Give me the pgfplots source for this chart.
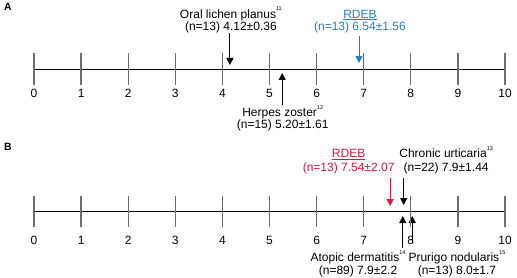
\documentclass[border=0pt]{standalone}
\usepackage{pgfplots}
\pgfplotsset{compat=1.18}
\usepackage{fontspec}
\setmainfont{Liberation Sans}
\usetikzlibrary{arrows.meta}
\definecolor{blueA}{RGB}{35,128,192}
\definecolor{redB}{RGB}{222,22,62}
\definecolor{tickgray}{RGB}{110,110,110}
\newcommand{\sups}[1]{\raisebox{0.62em}{\fontsize{5.5bp}{6bp}\selectfont #1}}
\newcommand{\lab}{\fontsize{12bp}{13bp}\selectfont}
\pgfplotsset{
  numberline/.style={
    scale only axis, width=471bp, height=138bp,
    xmin=0, xmax=10, hide axis, clip=false, anchor=south west,
  },
  arr/.style={line width=0.9bp, -{Triangle[length=7bp,width=7bp]}},
}
\begin{document}
\begin{tikzpicture}
% ---------------- Panel A ----------------
\begin{axis}[numberline, at={(34bp,140bp)}, ymin=-69, ymax=69]
  \addplot[tickgray, line width=1.3bp, only marks, mark=|, mark size=16bp]
    coordinates {(0,0)(1,0)(2,0)(3,0)(4,0)(5,0)(6,0)(7,0)(8,0)(9,0)(10,0)};
  \addplot[black, line width=0.8bp] coordinates {(0,0)(10,0)};
  \addplot[draw=none, mark=none, nodes near coords, point meta=explicit symbolic,
    nodes near coords style={anchor=center, yshift=-24bp, font=\lab, text=black}]
    coordinates {(0,0)[0] (1,0)[1] (2,0)[2] (3,0)[3] (4,0)[4] (5,0)[5]
                 (6,0)[6] (7,0)[7] (8,0)[8] (9,0)[9] (10,0)[10]};
  % arrows
  \addplot[black, arr] coordinates {(4.16,36) (4.16,4)};
  \addplot[blueA, arr] coordinates {(6.90,33) (6.90,6)};
  \addplot[black, arr] coordinates {(5.27,-36) (5.27,-4)};
  % labels
  \node[anchor=base, font=\lab] at (axis cs:4.18,51) {Oral lichen planus\sups{11}};
  \node[anchor=base, font=\lab] at (axis cs:4.18,38) {(n=13) 4.12±0.36};
  \node[anchor=base, font=\lab, text=blueA] at (axis cs:6.92,51) {\underline{RDEB}};
  \node[anchor=base, font=\lab, text=blueA] at (axis cs:6.92,38) {(n=13) 6.54±1.56};
  \node[anchor=base, font=\lab] at (axis cs:5.28,-48) {Herpes zoster\sups{12}};
  \node[anchor=base, font=\lab] at (axis cs:5.28,-60) {(n=15) 5.20±1.61};
\end{axis}
% ---------------- Panel B ----------------
\begin{axis}[numberline, at={(34bp,0bp)}, ymin=-67, ymax=71]
  \addplot[tickgray, line width=1.3bp, only marks, mark=|, mark size=15.5bp]
    coordinates {(0,0)(1,0)(2,0)(3,0)(4,0)(5,0)(6,0)(7,0)(8,0)(9,0)(10,0)};
  \addplot[black, line width=0.8bp] coordinates {(0,0)(10,0)};
  \addplot[draw=none, mark=none, nodes near coords, point meta=explicit symbolic,
    nodes near coords style={anchor=center, yshift=-29bp, font=\lab, text=black}]
    coordinates {(0,0)[0] (1,0)[1] (2,0)[2] (3,0)[3] (4,0)[4] (5,0)[5]
                 (6,0)[6] (7,0)[7] (8,0)[8] (9,0)[9] (10,0)[10]};
  % arrows
  \addplot[redB, arr] coordinates {(7.56,33) (7.56,5)};
  \addplot[black, arr] coordinates {(7.85,33) (7.85,6)};
  \addplot[black, arr] coordinates {(7.83,-37) (7.83,-5)};
  \addplot[black, arr] coordinates {(8.03,-32) (8.03,-5)};
  % labels
  \node[anchor=base, font=\lab, text=redB] at (axis cs:6.68,53.5) {\underline{RDEB}};
  \node[anchor=base, font=\lab, text=redB] at (axis cs:6.68,40) {(n=13) 7.54±2.07};
  \node[anchor=base, font=\lab] at (axis cs:8.75,53.5) {Chronic urticaria\sups{13}};
  \node[anchor=base, font=\lab] at (axis cs:8.75,40) {(n=22) 7.9±1.44};
  \node[anchor=base, font=\lab] at (axis cs:6.88,-50.5) {Atopic dermatitis\sups{14}};
  \node[anchor=base, font=\lab] at (axis cs:6.88,-63) {(n=89) 7.9±2.2};
  \node[anchor=base, font=\lab] at (axis cs:8.98,-50.5) {Prurigo nodularis\sups{15}};
  \node[anchor=base, font=\lab] at (axis cs:8.98,-63) {(n=13) 8.0±1.7};
\end{axis}
% panel letters
\node[font=\fontsize{10.5bp}{12bp}\selectfont\bfseries] at (8bp,271bp) {A};
\node[font=\fontsize{10.5bp}{12bp}\selectfont\bfseries] at (8bp,131bp) {B};
\pgfresetboundingbox
\path (0,0) rectangle (517bp,278bp);
\end{tikzpicture}
\end{document}
